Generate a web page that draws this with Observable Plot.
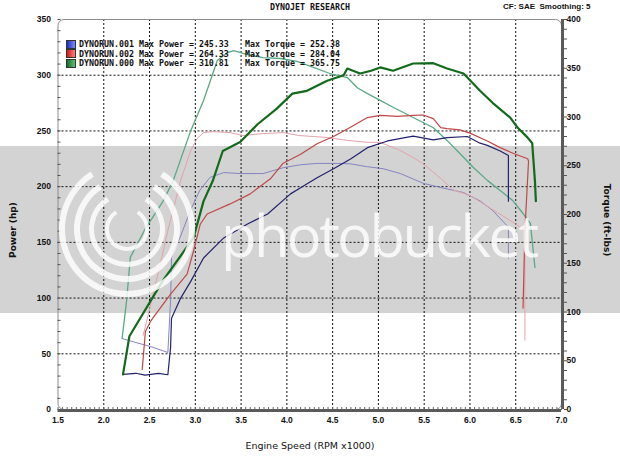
<!DOCTYPE html>
<html>
<head>
<meta charset="utf-8">
<script src="https://cdn.jsdelivr.net/npm/d3@7"></script>
<script src="https://cdn.jsdelivr.net/npm/@observablehq/plot@0.6"></script>
<style>
  body { margin: 0; background: #fff; }
  #wrap { position: relative; width: 620px; height: 458px; overflow: hidden; background: #fff; }
  #band { position: absolute; left: 0; top: 146px; width: 620px; height: 167px; background: #d3d3d3; }
  #chart { position: absolute; left: 0; top: 0; }
  .t { position: absolute; white-space: pre; color: #111; }
  .mono { font-family: "DejaVu Sans Mono", monospace; font-weight: bold; font-size: 8.3px; line-height: 10px; }
  .sw { position: absolute; width: 10px; height: 9px; border: 1px solid #333; box-sizing: border-box; }
  #wm { position: absolute; left: 0; top: 0; opacity: 0.82; pointer-events: none; }
</style>
</head>
<body>
<div id="wrap">
  <div id="band"></div>
  <div id="chart"></div>
  <svg id="wm" width="620" height="458"></svg>
</div>
<script>
// ---- tick / grid values ----
const xTickLabels = [1.5, 2.0, 2.5, 3.0, 3.5, 4.0, 4.5, 5.0, 5.5, 6.0, 6.5, 7.0];
const xGrid = [2.0, 2.5, 3.0, 3.5, 4.0, 4.5, 5.0, 5.5, 6.0, 6.5];
const hpTicks = [0, 50, 100, 150, 200, 250, 300, 350];
const hpGrid = [50, 100, 150, 200, 250, 300];
const tqTicks = [0, 50, 100, 150, 200, 250, 300, 350, 400];
const hpMax = 350, tqMax = 400;

// ---- legend ----
const runNames = ["DYNORUN.001", "DYNORUN.002", "DYNORUN.000"];
const maxPower = ["245.33", "264.33", "310.81"];
const maxTorque = ["252.38", "284.04", "365.75"];

// ---- series: [rpm x1000, value] ----
const run001Power = [[2.21,31.5],[2.35,32.5],[2.45,30.8],[2.6,32.4],[2.7,31.2],[2.73,56],[2.74,82],[2.84,100],[2.95,115],[3.09,136],[3.31,154],[3.57,166.5],[3.79,175.5],[4.04,193.5],[4.15,199],[4.33,208],[4.51,216],[4.7,225],[4.88,235],[5.1,241],[5.38,245.3],[5.6,242],[5.75,244],[5.97,245],[6.11,239],[6.19,237],[6.33,232],[6.42,228],[6.42,187]];
const run001Torque = [[2.2,72.8],[2.35,68.7],[2.51,64.6],[2.7,58.5],[2.73,112],[2.74,156],[2.84,178],[2.95,205],[3.05,225],[3.16,238],[3.31,243],[3.49,242],[3.74,242],[3.96,248],[4.15,251],[4.33,252.4],[4.55,252.4],[4.69,252],[4.88,249],[5.05,247],[5.24,242],[5.49,232],[5.71,227],[5.93,222.5],[6.11,214],[6.25,204],[6.42,187],[6.42,155]];
const run002Power = [[2.42,36],[2.455,70],[2.51,79],[2.59,88],[2.73,103.5],[2.91,121.5],[2.98,142],[3.055,166.5],[3.13,175.5],[3.38,184.5],[3.6,193.5],[3.82,207],[3.96,221],[4.15,229],[4.33,238.5],[4.51,245],[4.69,253],[4.88,262],[5.02,264],[5.21,263],[5.38,264],[5.49,264.3],[5.6,261],[5.68,253],[5.75,252],[5.89,251],[6.0,248],[6.19,241],[6.33,235],[6.47,230],[6.63,225],[6.64,223],[6.6,160],[6.58,91]];
const run002Torque = [[2.43,76],[2.48,95],[2.53,115],[2.62,150],[2.7,183.6],[2.84,235],[2.95,265.6],[3.02,278],[3.09,284],[3.2,285],[3.38,284],[3.52,281],[3.74,283],[3.96,284],[4.13,281],[4.29,280],[4.44,279],[4.66,276],[4.88,274],[5.02,274],[5.24,265.6],[5.38,258.5],[5.49,252],[5.68,237],[5.82,225],[6.0,219.5],[6.3,202],[6.47,192],[6.6,183.6],[6.6,71]];
const run000Power = [[2.21,31.5],[2.28,65.7],[2.64,115],[2.98,154],[3.09,187],[3.19,205],[3.3,232],[3.49,240],[3.68,256],[3.89,270],[4.06,283.5],[4.22,286],[4.44,295],[4.62,300],[4.66,306],[4.8,301.5],[4.92,304],[5.02,307],[5.16,304],[5.38,310.5],[5.6,310.8],[5.75,306],[5.93,301.5],[6.11,286],[6.25,275],[6.44,262],[6.52,253],[6.63,244],[6.68,239],[6.71,205],[6.72,187]];
const run000Torque = [[2.2,72.8],[2.25,112],[2.29,156],[2.455,185.6],[2.65,214],[2.76,235],[2.95,286],[3.09,317],[3.24,358],[3.35,366],[3.42,368],[3.57,364],[3.74,361],[3.93,360],[4.11,357],[4.29,351],[4.47,344.6],[4.66,340.5],[4.77,330],[4.88,324],[5.02,317],[5.16,310],[5.38,299.5],[5.6,289],[5.75,276],[5.89,262.6],[6.04,248],[6.19,235],[6.33,224.6],[6.47,214],[6.58,201],[6.66,191],[6.68,173],[6.71,145.6]];

const colors = {
  p001: "#22226e", t001: "#8585c2",
  p002: "#c04848", t002: "#e4a2aa",
  p000: "#146a1c", t000: "#5aa985"
};

// torque plotted on the hp scale (right axis 0..400 maps to 0..350)
const k = hpMax / tqMax;
const pw = arr => arr.map(([r, v]) => ({r, v}));
const tq = arr => arr.map(([r, v]) => ({r, v: v * k}));

const line = (data, stroke, w) => Plot.line(data, {x: "r", y: "v", stroke, strokeWidth: w, curve: "linear"});

const chart = Plot.plot({
  width: 620, height: 458,
  marginLeft: 57.5, marginRight: 59, marginTop: 19, marginBottom: 49,
  x: {domain: [1.5, 7.0], axis: null},
  y: {domain: [0, hpMax], axis: null},
  style: {background: "transparent", fontFamily: "Liberation Sans", fontSize: "8.5px", fontWeight: "bold", color: "#111"},
  marks: [
    Plot.ruleX(xGrid, {stroke: "#111", strokeDasharray: "2,2", strokeWidth: 1}),
    Plot.ruleY(hpGrid, {stroke: "#111", strokeDasharray: "2,2", strokeWidth: 1}),
    line(tq(run001Torque), colors.t001, 1),
    line(tq(run002Torque), colors.t002, 1),
    line(tq(run000Torque), colors.t000, 1.3),
    line(pw(run001Power), colors.p001, 1.2),
    line(pw(run002Power), colors.p002, 1.2),
    line(pw(run000Power), colors.p000, 2.2),
    Plot.frame({stroke: "#8c8c8c", rx: 6}),
    Plot.ruleY([0], {stroke: "#5a5a5a", strokeWidth: 3, dy: 1}),
    Plot.ruleX([7.0], {stroke: "#5a5a5a", strokeWidth: 3, dx: 1}),
    // minor ticks (no text)
    Plot.axisY({anchor: "left", ticks: d3.range(0, 351, 10), tickSize: 3, dx: 3, fill: "none", label: null, stroke: "#555"}),
    Plot.axisY({anchor: "right", ticks: d3.range(0, 401, 10).map(t => t * k), tickSize: 3, dx: 2, fill: "none", label: null, stroke: "#555"}),
    Plot.axisX({anchor: "bottom", ticks: d3.range(0, 111).map(i => 1.5 + i * 0.05), tickSize: 3, dy: -2, fill: "none", label: null, stroke: "#666"}),
    // labels
    Plot.axisY({anchor: "left", ticks: hpTicks, tickSize: 0, tickPadding: 7, label: null, tickFormat: d => String(d)}),
    Plot.axisY({anchor: "right", ticks: tqTicks.map(t => t * k), tickSize: 0, tickPadding: 5, label: null, tickFormat: d => String(Math.round(d / k))}),
    Plot.axisX({anchor: "bottom", ticks: xTickLabels, tickSize: 0, tickPadding: 7, label: null, tickFormat: d => d.toFixed(1)})
  ]
});
document.getElementById("chart").appendChild(chart);

// ---- texts ----
const wrap = document.getElementById("wrap");
function addText(txt, x, y, cls, extra) {
  const d = document.createElement("div");
  d.className = "t " + (cls || "");
  d.textContent = txt;
  d.style.left = x + "px"; d.style.top = y + "px";
  if (extra) Object.assign(d.style, extra);
  wrap.appendChild(d);
  return d;
}
addText("DYNOJET RESEARCH", 270, 2, "mono");
addText("CF: SAE  Smoothing: 5", 503, 2, "", {fontFamily: "Liberation Sans", fontWeight: "bold", fontSize: "8px", lineHeight: "10px"});
addText("Power (hp)", 13, 230, "", {fontFamily: "DejaVu Sans", fontWeight: "bold", fontSize: "9px", transform: "translate(-50%,-50%) rotate(-90deg)"});
addText("Torque (ft-lbs)", 607, 220, "", {fontFamily: "DejaVu Sans", fontWeight: "bold", fontSize: "9px", transform: "translate(-50%,-50%) rotate(90deg)"});
addText("Engine Speed (RPM x1000)", 310, 445, "", {fontFamily: "DejaVu Sans", fontSize: "9.5px", transform: "translate(-50%,-50%)"});

const swatches = [
  "linear-gradient(to right, #1b2fb8, #7c8cff)",
  "linear-gradient(to right, #d01818, #ff8080)",
  "linear-gradient(to right, #12702a, #5fc070)"
];
const rowY = [39.5, 49.2, 58.9];
runNames.forEach((n, i) => {
  const s = document.createElement("div");
  s.className = "sw";
  s.style.left = "66px"; s.style.top = rowY[i] + "px"; s.style.background = swatches[i];
  wrap.appendChild(s);
  addText(n + " Max Power = " + maxPower[i], 79, rowY[i] - 0.5, "mono");
  addText("Max Torque = " + maxTorque[i], 245, rowY[i] - 0.5, "mono");
});

// ---- watermark ----
const wm = d3.select("#wm");
const cx = 127, cy = 229;
const arc = d3.arc();
[[62, 68], [47, 53], [33, 38], [18, 22]].forEach(([r0, r1]) => {
  wm.append("path")
    .attr("transform", `translate(${cx},${cy})`)
    .attr("d", arc({innerRadius: r0, outerRadius: r1, startAngle: Math.PI * 0.18, endAngle: Math.PI * 1.82}))
    .attr("fill", "#fff");
});
wm.append("text")
  .attr("x", 221).attr("y", 257)
  .attr("font-family", "Open Sans").attr("font-size", 58)
  .attr("letter-spacing", -2.6)
  .attr("fill", "#fff")
  .text("photobucket");
</script>
</body>
</html>
